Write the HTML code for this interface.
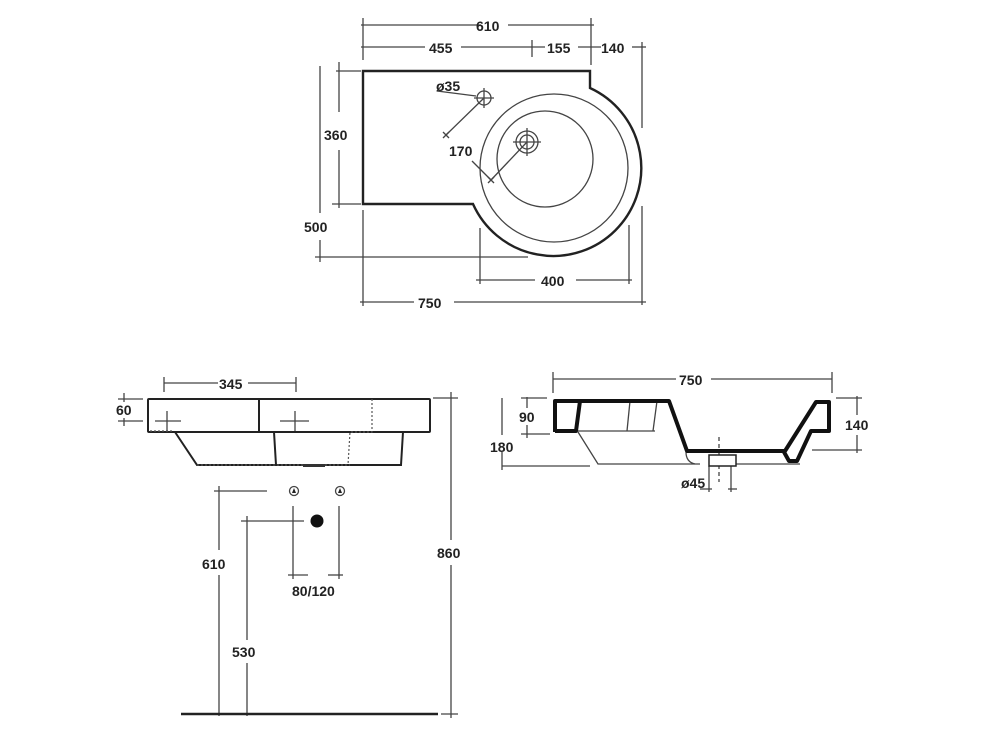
<!DOCTYPE html>
<html><head><meta charset="utf-8"><style>
html,body{margin:0;padding:0;background:#fff;}
svg{display:block;}
text{font-family:"Liberation Sans",sans-serif;font-weight:bold;font-size:14px;fill:#222;}
</style></head><body>
<svg width="982" height="738" viewBox="0 0 982 738">
<g stroke="#444" stroke-width="1.3" fill="none">
<!-- TOP VIEW dims -->
<line x1="361" y1="25" x2="481" y2="25"/><line x1="508" y1="25" x2="594" y2="25"/>
<line x1="363" y1="18" x2="363" y2="60"/><line x1="591" y1="18" x2="591" y2="65"/>
<line x1="361" y1="47" x2="425" y2="47"/><line x1="461" y1="47" x2="545" y2="47"/>
<line x1="578" y1="47" x2="601" y2="47"/><line x1="632" y1="47" x2="646" y2="47"/>
<line x1="532" y1="40" x2="532" y2="57"/>
<line x1="642" y1="42" x2="642" y2="128"/><line x1="642" y1="206" x2="642" y2="305"/>
<line x1="336" y1="71" x2="361" y2="71"/><line x1="332" y1="204" x2="361" y2="204"/>
<line x1="339" y1="62" x2="339" y2="112"/><line x1="339" y1="150" x2="339" y2="208"/>
<line x1="320" y1="66" x2="320" y2="213"/><line x1="320" y1="240" x2="320" y2="262"/>
<line x1="315" y1="257" x2="528" y2="257"/>
<line x1="480" y1="228" x2="480" y2="284"/><line x1="629" y1="225" x2="629" y2="284"/>
<line x1="476" y1="280" x2="535" y2="280"/><line x1="576" y1="280" x2="632" y2="280"/>
<line x1="363" y1="210" x2="363" y2="306"/>
<line x1="360" y1="302" x2="414" y2="302"/><line x1="454" y1="302" x2="646" y2="302"/>
<!-- leaders -->
<line x1="437" y1="91" x2="476" y2="96"/>
<line x1="484" y1="98" x2="446" y2="135"/>
<line x1="443" y1="132" x2="449" y2="138"/><line x1="443" y1="138" x2="449" y2="132"/>
<line x1="527" y1="142" x2="491" y2="180"/>
<line x1="488" y1="177" x2="494" y2="183"/><line x1="488" y1="183" x2="494" y2="177"/>
<line x1="472" y1="161" x2="491" y2="180"/>
<line x1="474" y1="98" x2="494" y2="98"/><line x1="484" y1="88" x2="484" y2="108"/>
<line x1="513" y1="142" x2="541" y2="142"/><line x1="527" y1="128" x2="527" y2="156"/>
<circle cx="554" cy="168" r="74"/><circle cx="545" cy="159" r="48"/>
<circle cx="484" cy="98" r="7"/><circle cx="527" cy="142" r="7"/><circle cx="527" cy="142" r="11"/>
</g>
<path d="M363,71 L590,71 L590,88 A88,88 0 1 1 473,204 L363,204 Z" fill="none" stroke="#222" stroke-width="2.4"/>
<text x="476" y="31">610</text><text x="429" y="53">455</text><text x="547" y="53">155</text><text x="601" y="53">140</text>
<text x="436" y="91" font-size="13">ø35</text><text x="449" y="156">170</text>
<text x="324" y="140">360</text><text x="304" y="232">500</text>
<text x="541" y="286">400</text><text x="418" y="308">750</text>

<!-- FRONT VIEW -->
<g stroke="#444" stroke-width="1.3" fill="none">
<line x1="164" y1="377" x2="164" y2="392"/><line x1="296" y1="377" x2="296" y2="392"/>
<line x1="164" y1="383" x2="218" y2="383"/><line x1="248" y1="383" x2="296" y2="383"/>
<line x1="118" y1="399" x2="143" y2="399"/><line x1="118" y1="421" x2="143" y2="421"/>
<line x1="124" y1="393" x2="124" y2="402"/><line x1="124" y1="418" x2="124" y2="426"/>
<line x1="433" y1="398" x2="458" y2="398"/><line x1="451" y1="392" x2="451" y2="540"/><line x1="451" y1="565" x2="451" y2="718"/>
<line x1="441" y1="714" x2="458" y2="714"/>
<line x1="214" y1="491" x2="267" y2="491"/><line x1="219" y1="486" x2="219" y2="550"/><line x1="219" y1="575" x2="219" y2="716"/>
<line x1="241" y1="521" x2="304" y2="521"/><line x1="247" y1="516" x2="247" y2="640"/><line x1="247" y1="663" x2="247" y2="716"/>
<line x1="293" y1="506" x2="293" y2="579"/><line x1="339" y1="506" x2="339" y2="579"/>
<line x1="288" y1="575" x2="308" y2="575"/><line x1="328" y1="575" x2="343" y2="575"/>
<line x1="155" y1="421" x2="181" y2="421"/><line x1="167" y1="411" x2="167" y2="431"/>
<line x1="280" y1="421" x2="309" y2="421"/><line x1="295" y1="411" x2="295" y2="431"/>
<circle cx="294" cy="491" r="4.5"/><circle cx="340" cy="491" r="4.5"/>
</g>
<path d="M292,493 L294,488 L296,493Z M338,493 L340,488 L342,493Z" fill="#222"/>
<circle cx="317" cy="521" r="6.5" fill="#111"/>
<line x1="181" y1="714" x2="438" y2="714" stroke="#222" stroke-width="2.5"/>
<g stroke="#222" stroke-width="2" fill="none">
<rect x="148" y="399" width="282" height="33" rx="1"/>
<line x1="259" y1="399" x2="259" y2="432"/>
<path d="M175,432 L197,465 L275,465 M274,432 L276,465 L401,465 L403,432"/>
</g>
<g stroke="#555" stroke-width="1.2" fill="none" stroke-dasharray="2,2">
<path d="M150,431 L172,431 M197,465 L350,465 M372,399 L372,432 L350,432 L348,465"/>
</g>
<rect x="303" y="464" width="22" height="3" fill="#333"/>
<text x="219" y="389">345</text><text x="116" y="415">60</text>
<text x="437" y="558">860</text><text x="202" y="569">610</text><text x="232" y="657">530</text>
<text x="292" y="596">80/120</text>

<!-- SIDE VIEW -->
<g stroke="#444" stroke-width="1.3" fill="none">
<line x1="553" y1="372" x2="553" y2="393"/><line x1="832" y1="372" x2="832" y2="393"/>
<line x1="553" y1="379" x2="676" y2="379"/><line x1="711" y1="379" x2="832" y2="379"/>
<line x1="521" y1="398" x2="547" y2="398"/><line x1="521" y1="434" x2="550" y2="434"/>
<line x1="527" y1="397" x2="527" y2="408"/><line x1="527" y1="425" x2="527" y2="438"/>
<line x1="502" y1="398" x2="502" y2="435"/><line x1="502" y1="452" x2="502" y2="470"/>
<line x1="502" y1="466" x2="590" y2="466"/>
<line x1="836" y1="398" x2="862" y2="398"/><line x1="812" y1="450" x2="862" y2="450"/>
<line x1="857" y1="396" x2="857" y2="415"/><line x1="857" y1="435" x2="857" y2="453"/>
<line x1="709" y1="466" x2="709" y2="492"/><line x1="731" y1="466" x2="731" y2="492"/>
<line x1="700" y1="489" x2="712" y2="489"/><line x1="728" y1="489" x2="737" y2="489"/>
<line x1="719" y1="437" x2="719" y2="482" stroke-dasharray="4,3"/>
<line x1="578" y1="431" x2="655" y2="431"/><line x1="630" y1="401" x2="627" y2="431"/><line x1="657" y1="401" x2="653" y2="431"/>
<path d="M578,432 L598,464 L700,464"/><path d="M686,452 Q686,462 695,464"/>
<line x1="736" y1="464" x2="800" y2="464"/>
</g>
<g stroke="#111" stroke-width="4" fill="none" stroke-linejoin="round">
<path d="M555,432 L555,401 L669,401 L687,451 L785,451 L816,402 L829,402 L829,431 L811,431 L797,461 L789,461 L784,452"/>
<path d="M555,401 L580,401 L576,431 L555,431"/>
</g>
<rect x="709" y="455" width="27" height="11" fill="#fff" stroke="#222" stroke-width="1.5"/>
<text x="679" y="385">750</text><text x="519" y="422">90</text><text x="490" y="452">180</text>
<text x="845" y="430">140</text><text x="681" y="488">ø45</text>
</svg>
</body></html>
